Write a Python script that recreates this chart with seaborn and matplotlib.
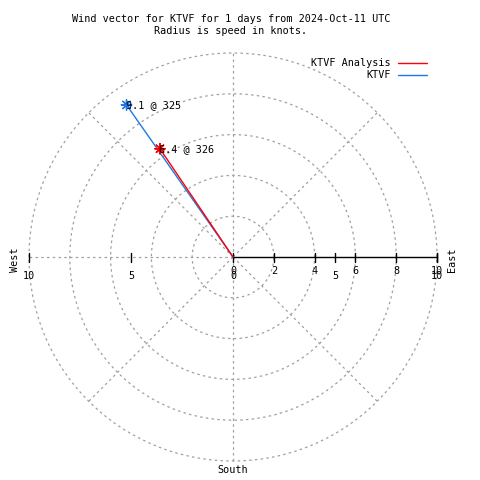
import numpy as np
import pandas as pd
import matplotlib
matplotlib.use("Agg")
import matplotlib.pyplot as plt
import seaborn as sns

# ---- data ----
series = ["KTVF Analysis", "KTVF"]
speeds = [6.4, 9.1]          # knots
directions = [326, 325]      # degrees from north, clockwise
colors = ["#ff0000", "#1e78e6"]
ring_radii = [2, 4, 6, 8, 10]
r_ticks = [0, 2, 4, 6, 8, 10]
x_ticks = [-10, -5, 0, 5, 10]
title = "Wind vector for KTVF for 1 days from 2024-Oct-11 UTC\nRadius is speed in knots."

sns.set_style("white")
plt.rcParams['font.family'] = ['DejaVu Sans Mono', 'DejaVu Sans']
plt.rcParams['text.color'] = 'black'
FS = 7.3

fig = plt.figure(figsize=(4.8, 4.8), dpi=100)
ax = fig.add_axes([0, 0, 1, 1])
ppu = 20.4
cx, cy = 233, 257
ax.set_xlim(-cx / ppu, (480 - cx) / ppu)
ax.set_ylim(-(480 - cy) / ppu, cy / ppu)
ax.set_aspect("equal")
ax.axis("off")

grid_kw = dict(color="#a0a0a0", lw=0.9, ls=(0, (2.0, 2.6)), zorder=1)
# rings
th = np.linspace(0, 2 * np.pi, 400)
for r in ring_radii:
    ax.plot(r * np.cos(th), r * np.sin(th), **grid_kw)
# radial lines every 45 deg
R = max(ring_radii)
for a in range(0, 360, 45):
    if a == 0:
        continue
    t = np.deg2rad(a)
    ax.plot([0, R * np.cos(t)], [0, R * np.sin(t)], **grid_kw)

# r axis (east)
ax.plot([0, R], [0, 0], color="black", lw=1.0, zorder=2)
tk = 4.5 / ppu
for v in r_ticks[1:]:
    ax.plot([v, v], [-tk, tk], color="black", lw=1.0, zorder=2)
    ax.text(v, -14 / ppu, str(v), ha="center", va="center", fontsize=FS)
ax.text(0, -14 / ppu, "0", ha="center", va="center", fontsize=FS)
# x border ticks
for v in x_ticks:
    ax.plot([v, v], [-tk, tk], color="black", lw=1.0, zorder=2)
    ax.text(v, -19 / ppu, str(abs(v)), ha="center", va="center", fontsize=FS)

# compass labels
ax.text((15 - cx) / ppu, (cy - 260) / ppu, "West", rotation=90, ha="center", va="center", fontsize=FS)
ax.text((452 - cx) / ppu, (cy - 260) / ppu, "East", rotation=90, ha="center", va="center", fontsize=FS)
ax.text(0, (cy - 470) / ppu, "South", ha="center", va="center", fontsize=FS)

# vectors
rows = []
for s, sp, d in zip(series, speeds, directions):
    t = np.deg2rad(d)
    rows.append(dict(series=s, x=0.0, y=0.0, order=0))
    rows.append(dict(series=s, x=sp * np.sin(t), y=sp * np.cos(t), order=1))
df = pd.DataFrame(rows)
pal = dict(zip(series, colors))
for s in reversed(series):
    sub = df[df.series == s]
    sns.lineplot(data=sub, x="x", y="y", sort=False, color=pal[s], lw=1.0, ax=ax,
                 legend=False, zorder=3, estimator=None)
ends = df[df.order == 1]
sns.scatterplot(data=ends, x="x", y="y", hue="series", palette=pal, marker=(8, 2, 0),
                s=55, linewidth=1.0, ax=ax, legend=False, zorder=4)
for (_, row), sp, d in zip(ends.iterrows(), speeds, directions):
    ax.text(row.x - 0.05, row.y, f"{sp} @ {d}", ha="left", va="center", fontsize=FS, zorder=5)

# legend
for i, (s, c) in enumerate(zip(series, colors)):
    py = 63 + 12 * i
    fig.text(391 / 480, 1 - py / 480, s, ha="right", va="center", fontsize=FS)
    fig.add_artist(plt.Line2D([398 / 480, 427 / 480], [1 - py / 480] * 2, color=c, lw=1.0))

# title
fig.text(231 / 480, 1 - 25 / 480, title, ha="center", va="center", fontsize=FS, linespacing=1.35)

fig.savefig("out.png", dpi=100)
